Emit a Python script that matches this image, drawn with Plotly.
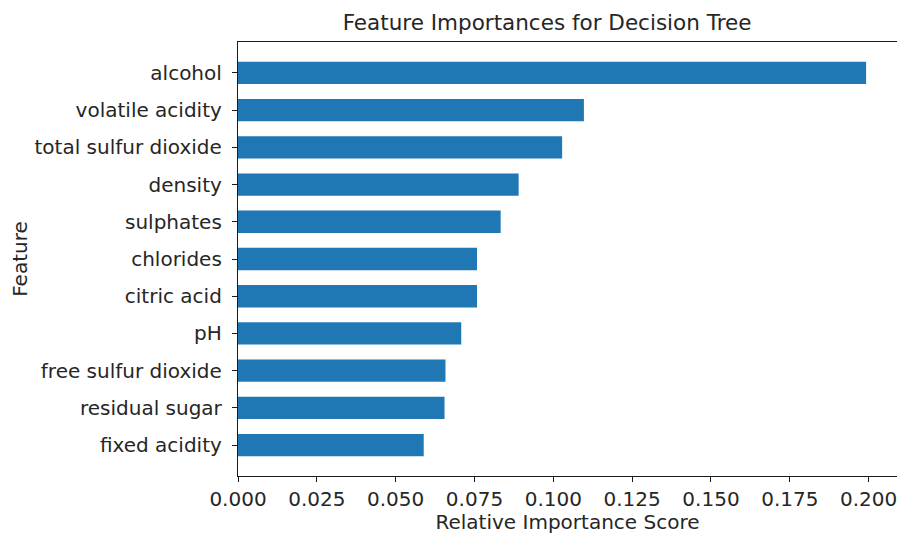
import plotly.graph_objects as go

features = ["alcohol", "volatile acidity", "total sulfur dioxide", "density",
            "sulphates", "chlorides", "citric acid", "pH",
            "free sulfur dioxide", "residual sugar", "fixed acidity"]
importance = [0.1992, 0.1097, 0.1028, 0.0890, 0.0833, 0.0758, 0.0758,
              0.0708, 0.0658, 0.0655, 0.0589]
x_ticks = [0.0, 0.025, 0.05, 0.075, 0.1, 0.125, 0.15, 0.175, 0.2]
x_tick_text = ["0.000", "0.025", "0.050", "0.075", "0.100", "0.125",
               "0.150", "0.175", "0.200"]

font = "DejaVu Sans"
ink = "#262626"

fig = go.Figure(go.Bar(
    x=importance, y=features, orientation="h",
    marker=dict(color="#1f77b4", line=dict(width=0)),
))

# page has an 8px body margin all round; keep the figure inside the window
# so no scrollbars appear. The axes run to the right edge with no right spine.
fig.update_layout(
    width=889, height=526,
    margin=dict(l=230, r=0, t=34, b=58),
    paper_bgcolor="white", plot_bgcolor="white",
    bargap=0.4,
    showlegend=False,
    font=dict(family=font, size=20, color=ink),
    title=dict(text="Feature Importances for Decision Tree",
               x=0.469, xanchor="center", xref="paper",
               y=1, yref="paper", yanchor="bottom", pad=dict(b=12),
               font=dict(size=21.5, family=font, color=ink)),
    xaxis=dict(
        range=[0, 0.209], tickvals=x_ticks, ticktext=x_tick_text,
        ticklabeloverflow="allow",
        showgrid=False, zeroline=False,
        showline=True, linecolor="#1a1a1a", linewidth=1.3, mirror=True,
        ticks="outside", ticklen=5, tickcolor="#1a1a1a",
        title=dict(text="Relative Importance Score", standoff=9,
                   font=dict(size=20, family=font, color=ink)),
    ),
    yaxis=dict(
        categoryorder="array", categoryarray=features,
        range=[10.83, -0.83], automargin=False,
        showgrid=False, zeroline=False,
        showline=True, linecolor="#1a1a1a", linewidth=1.3, mirror=False,
        ticks="outside", ticklen=5, tickcolor="#1a1a1a",
        ticklabelstandoff=6,
        title=dict(text="Feature", standoff=4,
                   font=dict(size=20, family=font, color=ink)),
    ),
)

fig.write_html("out.html")
